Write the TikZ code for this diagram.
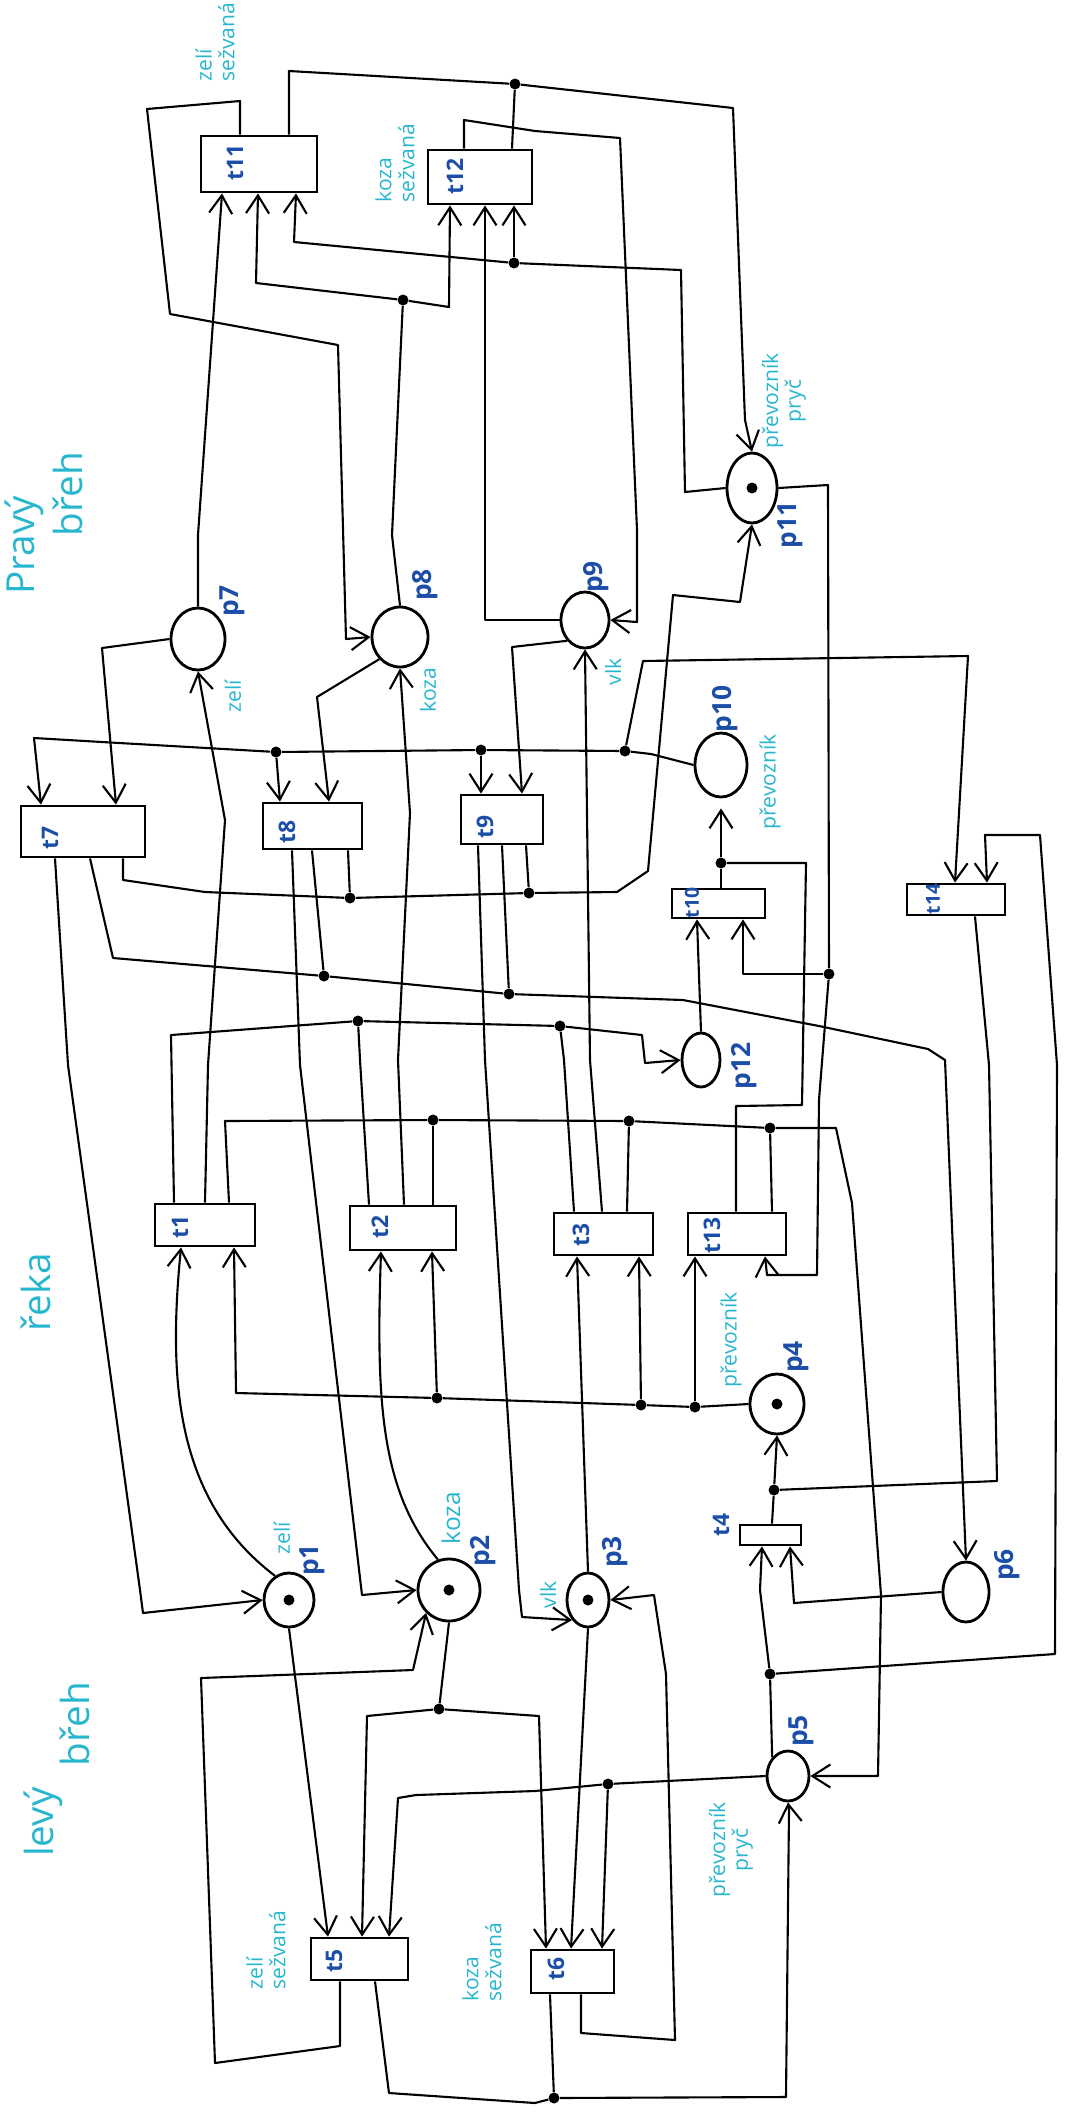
\documentclass[tikz,border=0pt]{standalone}
\usepackage{fontspec}
\setmainfont{Open Sans}
\usepackage{xcolor}
\usepackage{tikz}
\usetikzlibrary{arrows.meta,shapes.geometric}
\definecolor{idblue}{RGB}{28,78,168}
\definecolor{noteteal}{RGB}{40,182,206}

\begin{document}
\begin{tikzpicture}[
  x=0.2mm, y=-0.2mm,
  place/.style={draw, ellipse, line width=1.6pt, inner sep=0pt},
  trans/.style={draw, rectangle, line width=1.6pt, inner sep=0pt},
  arc/.style={line width=1.2pt, line join=round},
  arrow/.style={arc, -{Straight Barb[length=3.6mm, width=4.6mm]}},
  token/.style={fill, circle, inner sep=0pt, minimum size=2.2mm},
  junction/.style={fill, circle, inner sep=0pt, minimum size=2.2mm},
  idlab/.style={text=idblue, font=\fontsize{15}{15}\selectfont\bfseries, rotate=90, inner sep=0pt},
  tlab/.style={idlab, font=\fontsize{13}{13}\selectfont\bfseries},
  smalltlab/.style={idlab, font=\fontsize{11}{11}\selectfont\bfseries},
  note/.style={text=noteteal, font=\fontsize{12}{13}\selectfont, rotate=90, inner sep=0pt, align=center},
  region/.style={text=noteteal, font=\fontsize{22}{24}\selectfont, rotate=90, inner sep=0pt},
]
\useasboundingbox (0,0) rectangle (1070,2115);

\node[place, minimum width=10mm, minimum height=10.8mm] (P1) at (289,1600) {};
\node[place, minimum width=12.4mm, minimum height=12.4mm] (P2) at (449,1590) {};
\node[place, minimum width=8.4mm, minimum height=10.8mm] (P3) at (588,1600) {};
\node[place, minimum width=10.8mm, minimum height=12mm] (P4) at (777,1404) {};
\node[place, minimum width=8.4mm, minimum height=10mm] (P5) at (788,1776) {};
\node[place, minimum width=9.2mm, minimum height=12mm] (P6) at (966,1592) {};
\node[place, minimum width=10.8mm, minimum height=12.4mm] (P7) at (198,639) {};
\node[place, minimum width=11.2mm, minimum height=12mm] (P8) at (400,637) {};
\node[place, minimum width=9.6mm, minimum height=11.2mm] (P9) at (585,620) {};
\node[place, minimum width=10.4mm, minimum height=12.8mm] (P10) at (721,765) {};
\node[place, minimum width=10mm, minimum height=14mm] (P11) at (752,488) {};
\node[place, minimum width=7.6mm, minimum height=10.8mm] (P12) at (701,1060) {};

\node[token] (P1tok) at (P1) {};
\node[token] (P2tok) at (P2) {};
\node[token] (P3tok) at (P3) {};
\node[token] (P4tok) at (P4) {};
\node[token] (P11tok) at (P11) {};

\node[trans, minimum width=20mm, minimum height=8.4mm] (t1) at (205,1225) {};
\node[trans, minimum width=21.2mm, minimum height=8.8mm] (t2) at (403,1228) {};
\node[trans, minimum width=19.8mm, minimum height=8.4mm] (t3) at (603.5,1234) {};
\node[trans, minimum width=12.2mm, minimum height=4mm] (t4) at (770.5,1535) {};
\node[trans, minimum width=19.4mm, minimum height=8.4mm] (t5) at (359.5,1959) {};
\node[trans, minimum width=16.6mm, minimum height=8.6mm] (t6) at (572.5,1971.5) {};
\node[trans, minimum width=24.8mm, minimum height=10.2mm] (t7) at (83,831.5) {};
\node[trans, minimum width=19.8mm, minimum height=9.2mm] (t8) at (312.5,826) {};
\node[trans, minimum width=16.4mm, minimum height=9.8mm] (t9) at (502,819.5) {};
\node[trans, minimum width=18.6mm, minimum height=5.8mm] (t10) at (718.5,903.5) {};
\node[trans, minimum width=23.2mm, minimum height=11.2mm] (t11) at (259,164) {};
\node[trans, minimum width=20.8mm, minimum height=10.8mm] (t12) at (480,177) {};
\node[trans, minimum width=19.6mm, minimum height=8.4mm] (t13) at (737,1234) {};
\node[trans, minimum width=19.6mm, minimum height=6.2mm] (t14) at (956,899.5) {};

\node[junction] (jA) at (515,84) {};
\node[junction] (jB) at (403,300) {};
\node[junction] (jC) at (514,263) {};
\node[junction] (jD) at (829,974) {};
\node[junction] (jE) at (350,898) {};
\node[junction] (jF) at (529,893) {};
\node[junction] (jG) at (625,751) {};
\node[junction] (jH) at (481,750) {};
\node[junction] (jI) at (276,752) {};
\node[junction] (jJ) at (324,976) {};
\node[junction] (jK) at (509,994) {};
\node[junction] (jL) at (358,1021) {};
\node[junction] (jM) at (560,1026) {};
\node[junction] (jN) at (721,863) {};
\node[junction] (jO) at (433,1120) {};
\node[junction] (jP) at (629,1121) {};
\node[junction] (jQ) at (770,1128) {};
\node[junction] (jR) at (695,1407) {};
\node[junction] (jS) at (641,1405) {};
\node[junction] (jT) at (437,1398) {};
\node[junction] (jU) at (439,1709) {};
\node[junction] (jV) at (608,1784) {};
\node[junction] (jW) at (554,2098) {};
\node[junction] (jX) at (770,1674) {};
\node[junction] (jY) at (774,1490) {};

\draw[arrow] (240,0 |- t11.north) -- (240,101) -- (147,109) -- (170,314) -- (338,345) -- (346,639) -- (P8.west);
\draw[arc] (289,0 |- t11.north) -- (289,71) -- (jA);
\draw[arc] (512,0 |- t12.north) -- (jA);
\draw[arrow] (jA) -- (733,108) -- (745,420) -- (P11.north);
\draw[arrow] (464,0 |- t12.north) -- (464,120) -- (535,131) -- (620,138) -- (637,530) -- (637,622) -- (P9.east);
\draw[arrow] (P7.north) -- (198,535) -- (222,0 |- t11.south);
\draw[arc] (P8.north) -- (392,535) -- (jB);
\draw[arrow] (jB) -- (256,283) -- (258,0 |- t11.south);
\draw[arrow] (jB) -- (449,307) -- (450,0 |- t12.south);
\draw[arc] (P11.west) -- (685,492) -- (681,270) -- (jC);
\draw[arrow] (jC) -- (294,242) -- (296,0 |- t11.south);
\draw[arrow] (jC) -- (514,0 |- t12.south);
\draw[arrow] (P9.west) -- (485,620) -- (485,0 |- t12.south);

\draw[arc] (P11.east) -- (828,485) -- (jD);
\draw[arrow] (jD) -- (743,974) -- (743,0 |- t10.south);
\draw[arrow] (jD) -- (819,1100) -- (817,1275) -- (767,1275) -- (765,0 |- t13.south);
\draw[arrow] (123,0 |- t7.south) -- (123,880) -- (205,892) -- (jE) -- (jF) -- (617,892) -- (648,871) -- (673,595) -- (740,602) -- (P11.south);
\draw[arc] (348,0 |- t8.south) -- (jE);
\draw[arc] (526,0 |- t9.south) -- (jF);

\draw[arrow] (P10.west) -- (651,754) -- (jG) -- (jH) -- (jI) -- (102,742) -- (34,738) -- (41,0 |- t7.north);
\draw[arrow] (jI) -- (280,0 |- t8.north);
\draw[arrow] (jH) -- (481,0 |- t9.north);
\draw[arrow] (jG) -- (643,661) -- (968,656) -- (955,0 |- t14.north);
\draw[arrow] (P7.west) -- (102,648) -- (116,0 |- t7.north);
\draw[arrow] (P8.south west) -- (317,697) -- (329,0 |- t8.north);
\draw[arrow] (P9.south west) -- (512,647) -- (522,0 |- t9.north);

\draw[arrow] (205,0 |- t1.north) -- (208,1065) -- (225,820) -- (P7.south);
\draw[arrow] (404,0 |- t2.north) -- (398,1060) -- (410,813) -- (P8.south);
\draw[arrow] (602,0 |- t3.north) -- (590,1060) -- (P9.south);
\draw[arrow] (55,0 |- t7.south) -- (68,1065) -- (140,1590) -- (143,1613) -- (P1.west);
\draw[arrow] (90,0 |- t7.south) -- (113,958) -- (jJ) -- (jK) -- (683,1000) -- (819,1026) -- (928,1049) -- (945,1060) -- (P6.north);
\draw[arc] (312,0 |- t8.south) -- (jJ);
\draw[arc] (502,0 |- t9.south) -- (jK);
\draw[arrow] (292,0 |- t8.south) -- (300,1065) -- (362,1595) -- (P2.west);
\draw[arrow] (478,0 |- t9.south) -- (485,1060) -- (519,1590) -- (522,1617) -- (P3.south west);

\draw[arrow] (174,0 |- t1.north) -- (171,1035) -- (jL) -- (jM) -- (642,1035) -- (645,1063) -- (P12.west);
\draw[arc] (369,0 |- t2.north) -- (360,1060) -- (jL);
\draw[arc] (574,0 |- t3.north) -- (564,1060) -- (jM);
\draw[arrow] (P12.north) -- (697,0 |- t10.south);
\draw[arc] (721,0 |- t10.north) -- (jN);
\draw[arrow, shorten >=2mm] (jN) -- (P10.south);
\draw[arc] (jN) -- (806,863) -- (802,1105) -- (736,1106) -- (736,0 |- t13.north);

\draw[arrow] (229,0 |- t1.north) -- (225,1121) -- (jO) -- (jP) -- (jQ) -- (836,1128) -- (852,1203) -- (881,1595) -- (878,1776) -- (P5.east);
\draw[arc] (433,0 |- t2.north) -- (jO);
\draw[arc] (627,0 |- t3.north) -- (jP);
\draw[arc] (772,0 |- t13.north) -- (jQ);
\draw[arrow] (P4.west) -- (jR) -- (jS) -- (jT) -- (236,1393) -- (234,0 |- t1.south);
\draw[arrow] (jT) -- (432,0 |- t2.south);
\draw[arrow] (jS) -- (639,0 |- t3.south);
\draw[arrow] (jR) -- (695,0 |- t13.south);
\draw[arrow] (P1.120) .. controls (175,1500) and (168,1380) .. (181,0 |- t1.south);
\draw[arrow] (P2.110) .. controls (380,1490) and (376,1400) .. (381,0 |- t2.south);
\draw[arrow] (P3.north) -- (577,0 |- t3.south);

\draw[arrow] (P1.south) -- (328,0 |- t5.north);
\draw[arrow] (340,0 |- t5.south) -- (340,2046) -- (215,2063) -- (201,1678) -- (413,1670) -- (P2.south west);
\draw[arc] (P2.south) -- (jU);
\draw[arrow] (jU) -- (367,1716) -- (362,0 |- t5.north);
\draw[arrow] (jU) -- (539,1716) -- (546,0 |- t6.north);
\draw[arrow] (P5.west) -- (jV) -- (535,1791) -- (416,1795) -- (398,1798) -- (389,0 |- t5.north);
\draw[arrow] (jV) -- (602,0 |- t6.north);
\draw[arrow] (P3.south) -- (571,0 |- t6.north);
\draw[arrow] (581,0 |- t6.south) -- (581,2033) -- (675,2040) -- (666,1674) -- (654,1595) -- (P3.east);
\draw[arrow] (375,0 |- t5.south) -- (389,2093) -- (535,2103) -- (jW) -- (786,2097) -- (789,1811) -- (P5.south);
\draw[arc] (550,0 |- t6.south) -- (jW);

\draw[arc] (P5.north west) -- (jX);
\draw[arrow] (jX) -- (760,1590) -- (762,0 |- t4.south);
\draw[arrow] (jX) -- (1055,1654) -- (1057,1065) -- (1040,835) -- (985,835) -- (987,0 |- t14.north);
\draw[arrow] (P6.west) -- (794,1603) -- (790,0 |- t4.south);
\draw[arc] (772,0 |- t4.north) -- (jY);
\draw[arrow] (jY) -- (P4.south);
\draw[arc] (975,0 |- t14.south) -- (989,1065) -- (997,1481) -- (jY);

\node[idlab] (p1lab) at (312,1560) {p1};
\node[idlab] (p2lab) at (483,1551) {p2};
\node[idlab] (p3lab) at (615,1552) {p3};
\node[idlab] (p4lab) at (796,1357) {p4};
\node[idlab] (p5lab) at (801,1731) {p5};
\node[idlab] (p6lab) at (1007,1565) {p6};
\node[idlab] (p7lab) at (232,601) {p7};
\node[idlab] (p8lab) at (425,585) {p8};
\node[idlab] (p9lab) at (596,577) {p9};
\node[idlab] (p10lab) at (725,709) {p10};
\node[idlab] (p11lab) at (790,525) {p11};
\node[idlab] (p12lab) at (744,1066) {p12};

\node[tlab] (t1lab) at (180,1227) {t1};
\node[tlab] (t2lab) at (380,1227) {t2};
\node[tlab] (t3lab) at (581,1235) {t3};
\node[tlab] (t4lab) at (721,1525) {t4};
\node[tlab] (t5lab) at (334,1961) {t5};
\node[tlab] (t6lab) at (556,1969) {t6};
\node[tlab] (t7lab) at (50,838) {t7};
\node[tlab] (t8lab) at (287,832) {t8};
\node[tlab] (t9lab) at (485,827) {t9};
\node[smalltlab] (t10lab) at (692,903) {t10};
\node[tlab] (t11lab) at (235,162) {t11};
\node[tlab] (t12lab) at (455,176) {t12};
\node[tlab] (t13lab) at (712,1235) {t13};
\node[smalltlab] (t14lab) at (933,899) {t14};

\node[note] (n1) at (282,1538) {zelí};
\node[note, font=\fontsize{14}{15}\selectfont] (n2) at (451,1518) {koza};
\node[note] (n3) at (548,1595) {vlk};
\node[note] (n4) at (731,1340) {převozník};
\node[note] (n5) at (731,1850) {převozník\\pryč};
\node[note] (n7) at (233,696) {zelí};
\node[note] (n8) at (428,690) {koza};
\node[note] (n9) at (613,672) {vlk};
\node[note] (n10) at (770,782) {převozník};
\node[note] (n11) at (784,401) {převozník\\pryč};
\node[note, align=left] (nt11) at (215,42) {zelí\\sežvaná};
\node[note, align=left] (nt12) at (395,163) {koza\\sežvaná};
\node[note, align=left] (nt5) at (266,1950) {zelí\\sežvaná};
\node[note, align=left] (nt6) at (482,1962) {koza\\sežvaná};

\node[region] (rPravy) at (24,545) {Pravý};
\node[region] (rPbreh) at (68,494) {břeh};
\node[region] (rReka) at (36,1292) {řeka};
\node[region] (rLevy) at (43,1822) {levý};
\node[region] (rLbreh) at (75,1724) {břeh};
\end{tikzpicture}
\end{document}
